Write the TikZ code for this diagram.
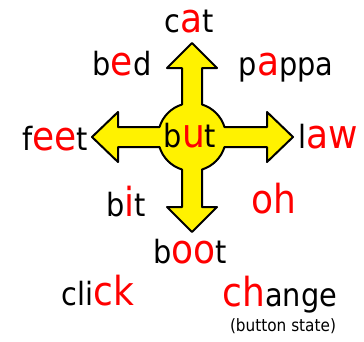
\documentclass[tikz,border=0pt]{standalone}
\usepackage{fontspec}
\setmainfont{DejaVu Sans Condensed}
\newcommand{\snd}[1]{{\color{red}\fontsize{40}{40}\selectfont #1}}

\begin{document}
\begin{tikzpicture}[x=1pt, y=-1pt, thick]
\tikzset{word/.style={inner sep=0pt, anchor=base, font=\fontsize{32}{32}\selectfont}}
\useasboundingbox (0,0) rectangle (364,341);

% the yellow cross
\begin{scope}[shift={(192,137)}]
\draw[line width=2pt, fill=yellow, line join=round]
  (32.5,-10) -- (75,-10) -- (75,-25) -- (101,0) -- (75,25) -- (75,10) -- (32.5,10)
  arc[start angle=17.1, end angle=72.9, radius=34]
  -- (10,70) -- (25,70) -- (0,95) -- (-25,70) -- (-10,70) -- (-10,32.5)
  arc[start angle=107.1, end angle=162.9, radius=34]
  -- (-74,10) -- (-74,25) -- (-100,0) -- (-74,-25) -- (-74,-10) -- (-32.5,-10)
  arc[start angle=197.1, end angle=252.9, radius=34]
  -- (-10,-69) -- (-25,-69) -- (0,-94) -- (25,-69) -- (10,-69) -- (10,-32.5)
  arc[start angle=287.1, end angle=342.9, radius=34] -- cycle;
\end{scope}

\node (but) [word] at (190,147) {b\snd{u}t};
\node (cat) [word] at (189,32) {c\snd{a}t};
\node (bed) [word] at (122,75) {b\snd{e}d};
\node (pappa) [word] at (286,75) {p\snd{a}ppa};
\node (feet) [word] at (55,150) {f\snd{ee}t};
\node (law) [word] at (328,148) {l\snd{aw}};
\node (bit) [word] at (126,216) {b\snd{i}t};
\node (oh) [word] at (274,213) {\snd{oh}};
\node (boot) [word] at (190,263) {b\snd{oo}t};
\node (click) [word] at (98,305) {cli\snd{ck}};
\node (change) [word] at (280,306) {\snd{ch}ange};
\node (state) [word, font=\fontsize{17}{17}\selectfont] at (283,331) {(button state)};
\end{tikzpicture}
\end{document}
